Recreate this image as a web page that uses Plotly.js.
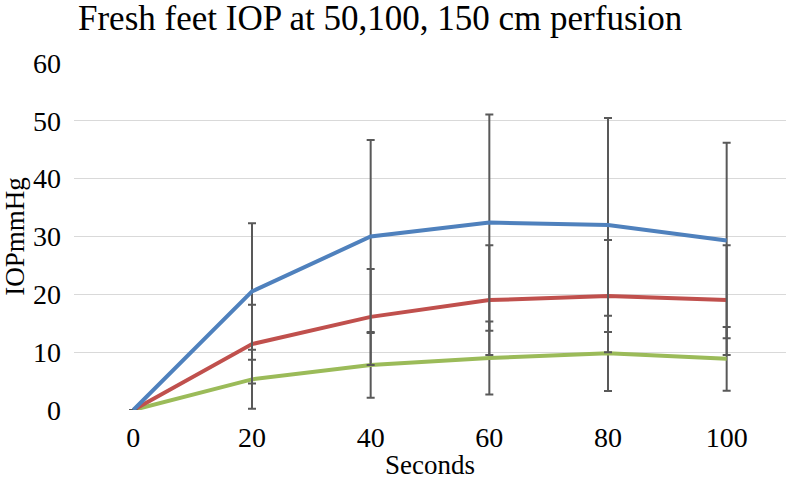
<!DOCTYPE html>
<html>
<head>
<meta charset="utf-8">
<script src="https://cdn.plot.ly/plotly-3.0.1.min.js"></script>
<style>html,body{margin:0;padding:0;background:#fff;}#chart{width:786px;height:485px;}</style>
</head>
<body>
<div id="chart"></div>
<script>
const seconds = [0, 20, 40, 60, 80, 100];
const iop50 = [0, 5.3, 7.8, 9.0, 9.8, 8.85];
const err50 = [0, 5.1, 5.7, 6.3, 6.5, 5.5];
const iop100 = [0, 11.4, 16.1, 19.0, 19.7, 19.0];
const err100 = [0, 6.8, 8.3, 9.5, 9.7, 9.5];
const iop150 = [0, 20.5, 30.0, 32.4, 32.0, 29.3];
const err150 = [0, 11.8, 16.7, 18.7, 18.5, 16.9];
const seriesNames = ['50 cm', '100 cm', '150 cm'];
const colors = ['#9BBB59', '#C0504D', '#4F81BD'];

const ys = [iop50, iop100, iop150];
const errs = [err50, err100, err150];
const traces = ys.map((y, i) => ({
  x: seconds, y: y, name: seriesNames[i], type: 'scatter', mode: 'lines',
  line: {color: colors[i], width: 4},
  error_y: {type: 'data', array: errs[i], visible: true, color: '#595959', thickness: 2, width: 4},
  cliponaxis: false
}));

const font = 'Liberation Serif, Times New Roman, serif';
const layout = {
  width: 786, height: 485,
  margin: {l: 74, r: 0, t: 63, b: 75},
  paper_bgcolor: '#fff', plot_bgcolor: '#fff',
  showlegend: false,
  font: {family: font, color: '#000', size: 28},
  title: {text: 'Fresh feet IOP at 50,100, 150 cm perfusion', font: {family: font, size: 35, color: '#000'},
          xref: 'container', x: 78/786, xanchor: 'left', yref: 'container', y: 1 - 5/485, yanchor: 'top'},
  xaxis: {range: [-10, 110], tickvals: seconds, ticktext: seconds.map(String), showgrid: false, zeroline: false,
          showline: false, ticks: '', ticklabelstandoff: 8, automargin: false, tickfont: {family: font, size: 28, color: '#000'},
          title: {text: 'Seconds', font: {family: font, size: 27, color: '#000'}, standoff: 3}},
  yaxis: {range: [0, 60], dtick: 10, showgrid: true, gridcolor: '#D9D9D9', gridwidth: 1, zeroline: false,
          showline: false, ticks: '', ticklabelstandoff: 12, automargin: false, tickfont: {family: font, size: 28, color: '#000'},
          title: {text: 'IOPmmHg', font: {family: font, size: 27, color: '#000'}, standoff: 12}}
};
Plotly.newPlot('chart', traces, layout, {staticPlot: true});
</script>
</body>
</html>
